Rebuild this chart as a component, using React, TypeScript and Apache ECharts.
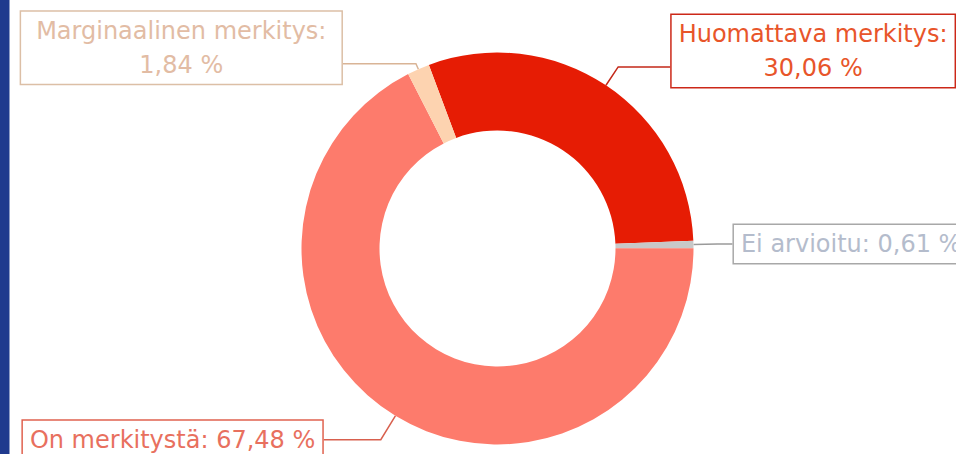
import React, { useEffect, useRef } from "react";
import * as echarts from "echarts";

const categories = ["Huomattava merkitys", "Ei arvioitu", "On merkitystä", "Marginaalinen merkitys"];
const shares = [30.06, 0.61, 67.48, 1.84];
const wrapLabel = [true, false, false, true];

const sliceColors = ["#e61c04", "#c8c8c8", "#fd7b6c", "#fdd3b0"];
const textColors = ["#e8552a", "#b4bccc", "#e8705e", "#e2bca4"];
const frameColors = ["#cc2818", "#a8a8a8", "#e0624f", "#dcbfa6"];
const lineColors = ["#c42818", "#9a9a9a", "#d8604e", "#d9b496"];
const leaderLength = [22, 24, 28, 6];
const leaderLength2 = [52, 15, 57, 73];
const labelPadX = [7, 7, 7, 15];

const fmt = (v: number) => v.toFixed(2).replace(".", ",") + " %";

export default function App() {
  const ref = useRef<HTMLDivElement>(null);
  useEffect(() => {
    if (!ref.current) return;
    const chart = echarts.init(ref.current, undefined, { renderer: "svg" });
    const data = categories.map((name, i) => ({
      name,
      value: shares[i],
      itemStyle: { color: sliceColors[i] },
      label: {
        color: textColors[i],
        borderColor: frameColors[i],
        padding: [2, labelPadX[i]],
        formatter: name + ":" + (wrapLabel[i] ? "\n" : " ") + fmt(shares[i]),
      },
      labelLine: {
        length: leaderLength[i],
        length2: leaderLength2[i],
        lineStyle: { color: lineColors[i], width: 1.5 },
      },
    }));
    chart.setOption({
      animation: false,
      backgroundColor: "#ffffff",
      graphic: [
        { type: "rect", left: 0, top: 0, shape: { x: 0, y: 0, width: 9.5, height: 454 }, style: { fill: "#1f3a8e" } },
      ],
      series: [
        {
          type: "pie",
          center: [497.5, 248.5],
          radius: [118, 196],
          startAngle: 110.5,
          clockwise: true,
          avoidLabelOverlap: false,
          emphasis: { disabled: true },
          label: {
            show: true,
            position: "outside",
            fontFamily: "DejaVu Sans",
            fontSize: 24,
            lineHeight: 34,
            backgroundColor: "#ffffff",
            borderWidth: 1.5,
            distanceToLabelLine: 0,
          },
          labelLine: { show: true, smooth: false },
          labelLayout: (p: any) => {
            const pts = p.labelLinePoints;
            if (!pts) return {};
            const end = pts[2];
            const left = end[0] < pts[1][0];
            const w = p.labelRect.width;
            const shift = wrapLabel[p.dataIndex] ? 16 : 0;
            return {
              x: end[0] + (left ? -w / 2 : w / 2),
              y: end[1] - shift,
              align: "center",
              verticalAlign: "middle",
              labelLinePoints: pts,
            };
          },
          data,
        },
      ],
    });
    return () => chart.dispose();
  }, []);
  return (
    <div
      ref={ref}
      style={{ position: "absolute", left: 0, top: 0, width: 956, height: 454 }}
    />
  );
}
